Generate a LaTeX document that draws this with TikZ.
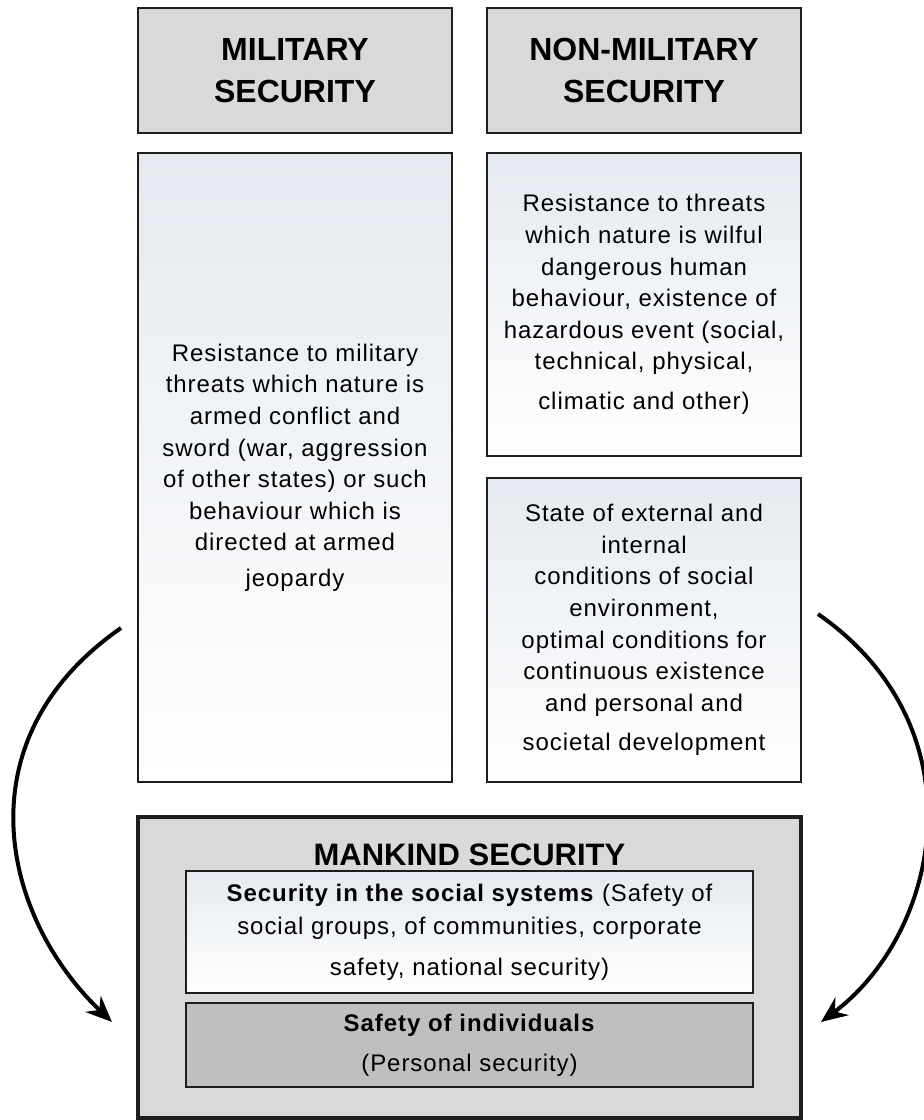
\documentclass[tikz,border=0pt]{standalone}
\usepackage{fontspec}
\setmainfont{Liberation Sans}
\newfontfamily\widesans[LetterSpace=4]{Liberation Sans}
\usetikzlibrary{arrows.meta}
\definecolor{headgray}{RGB}{217,217,217}
\definecolor{innergray}{RGB}{191,191,191}
\definecolor{paleblue}{RGB}{229,234,240}
\definecolor{edgeblack}{RGB}{30,30,30}
\tikzset{headbox/.style={draw=edgeblack, line width=2.7pt, fill=headgray, minimum width=314pt, minimum height=125pt, inner sep=0pt, align=center, font=\fontsize{32}{42.7}\selectfont\bfseries}}
\tikzset{bodybox/.style={draw=edgeblack, line width=2pt, top color=paleblue, middle color=white, bottom color=white, minimum width=314pt, inner sep=0pt, align=center, font=\widesans\fontsize{24}{31.6}\selectfont}}
\tikzset{curvearrow/.style={line width=4pt, -{Stealth[length=26pt,width=22pt]}}}

\begin{document}
\begin{tikzpicture}[x=1pt,y=-1pt]
\useasboundingbox (0,0) rectangle (924,1120);

% the two headings
\node[headbox] (milhead) at (295,70.5) {MILITARY\\SECURITY};
\node[headbox] (nonmilhead) at (644,70.5) {NON-MILITARY\\SECURITY};

% descriptions under the headings
\node[bodybox, minimum height=629pt] (milbody) at (295,467.5) {Resistance to military\\threats which nature is\\armed conflict and\\sword (war, aggression\\of other states) or such\\behaviour which is\\directed at armed\\[3.5pt]jeopardy};
\node[bodybox, minimum height=303pt] (nonmilthreat) at (644,304.5) {Resistance to threats\\which nature is wilful\\dangerous human\\behaviour, existence of\\hazardous event (social,\\technical, physical,\\[8pt]climatic and other)};
\node[bodybox, minimum height=304pt] (nonmilstate) at (644,630) {State of external and\\internal\\conditions of social\\environment,\\optimal conditions for\\continuous existence\\and personal and\\[8pt]societal development};

% mankind security block
\node[draw=edgeblack, line width=4.5pt, fill=headgray, minimum width=663pt, minimum height=301pt] (mankind) at (469.5,967.5) {};
\node[anchor=base, font=\fontsize{31}{36}\selectfont\bfseries] (mankindtitle) at (469.5,865) {MANKIND SECURITY};
\node[bodybox, minimum width=567pt, minimum height=122pt, font=\widesans\fontsize{24}{33}\selectfont] (social) at (469.5,932) {\textbf{Security in the social systems} (Safety of\\social groups, of communities, corporate\\[8pt]safety, national security)};
\node[draw=edgeblack, line width=2pt, fill=innergray, minimum width=567pt, minimum height=84pt, inner sep=0pt, align=center, font=\widesans\fontsize{24}{40}\selectfont] (individual) at (469.5,1045) {\textbf{Safety of individuals}\\(Personal security)};

% curved arrows down to the mankind block
\coordinate (milturn) at (121,628);
\coordinate (leftin) at (112,1022);
\coordinate (nonmilturn) at (818,614);
\coordinate (rightin) at (821,1022);
\draw[curvearrow] (milturn) .. controls (-39,739) and (1,916) .. (leftin);
\draw[curvearrow] (nonmilturn) .. controls (982,728) and (941,932) .. (rightin);

\end{tikzpicture}
\end{document}
